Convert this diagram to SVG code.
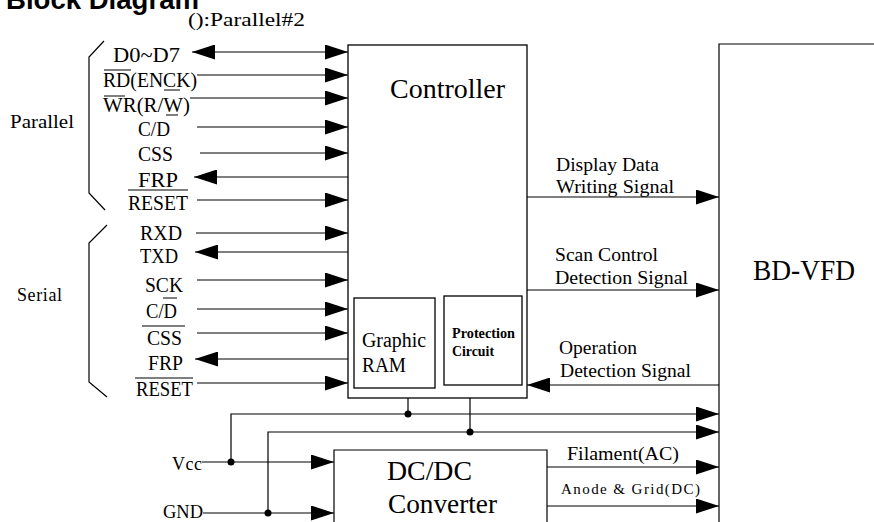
<svg xmlns="http://www.w3.org/2000/svg" width="874" height="522" viewBox="0 0 874 522">
<defs>
<marker id="ah" markerUnits="userSpaceOnUse" markerWidth="23" markerHeight="15" viewBox="0 0 23 15" refX="23" refY="7.5" orient="auto-start-reverse"><path d="M0,0 L23,7.5 L0,15 z" fill="#000"/></marker>
<style>
.ln{stroke:#000;stroke-width:1.2;fill:none}
.bx{stroke:#000;stroke-width:1.3;fill:#fff}
.ar{stroke:#000;stroke-width:1.2;fill:none;marker-end:url(#ah)}
.t{font-family:"Liberation Serif","Times New Roman",serif;fill:#000}
.s20{font-size:20px}
.s19{font-size:19px}
.s18{font-size:18px}
.dot{fill:#000}
</style>
</defs>
<rect width="874" height="522" fill="#fff"/>

<g id="title">
<text x="6" y="9" font-family="Liberation Sans, Arial, sans-serif" font-weight="bold" font-size="27" textLength="193" lengthAdjust="spacingAndGlyphs">Block Diagram</text>
<text class="t s19" x="188" y="26" textLength="117" lengthAdjust="spacingAndGlyphs">():Parallel#2</text>
</g>

<g id="parallel-group">
<path class="ln" d="M104,41 L89,57 V193 L105,210"/>
<text class="t s18" x="10" y="128" textLength="64" lengthAdjust="spacingAndGlyphs">Parallel</text>
<text class="t s20" x="113" y="62" textLength="67" lengthAdjust="spacingAndGlyphs">D0~D7</text>
<text class="t s20" x="103" y="87" textLength="94" lengthAdjust="spacingAndGlyphs">RD(ENCK)</text>
<text class="t s20" x="103" y="112" textLength="87" lengthAdjust="spacingAndGlyphs">WR(R/W)</text>
<text class="t s20" x="138" y="136" textLength="32" lengthAdjust="spacingAndGlyphs">C/D</text>
<text class="t s20" x="138" y="161" textLength="35" lengthAdjust="spacingAndGlyphs">CSS</text>
<text class="t s20" x="138" y="187" textLength="40" lengthAdjust="spacingAndGlyphs">FRP</text>
<text class="t s20" x="128" y="210" textLength="60" lengthAdjust="spacingAndGlyphs">RESET</text>
<path class="ln" d="M104,70 H131 M104,96 H125 M164,90 H180 M166,115 H178 M128,190 H188"/>
</g>

<g id="serial-group">
<path class="ln" d="M107,225 L89,243 V382 L107,397"/>
<text class="t s18" x="17" y="301" textLength="45">Serial</text>
<text class="t s20" x="140" y="240" textLength="42" lengthAdjust="spacingAndGlyphs">RXD</text>
<text class="t s20" x="140" y="263" textLength="38" lengthAdjust="spacingAndGlyphs">TXD</text>
<text class="t s20" x="145" y="292" textLength="38" lengthAdjust="spacingAndGlyphs">SCK</text>
<text class="t s20" x="146" y="318" textLength="31" lengthAdjust="spacingAndGlyphs">C/D</text>
<text class="t s20" x="147" y="345" textLength="35" lengthAdjust="spacingAndGlyphs">CSS</text>
<text class="t s20" x="148" y="370" textLength="35" lengthAdjust="spacingAndGlyphs">FRP</text>
<text class="t s20" x="136" y="396" textLength="57" lengthAdjust="spacingAndGlyphs">RESET</text>
<path class="ln" d="M163,298 H177 M142,326 H185 M135,378 H193"/>
</g>

<g id="controller">
<rect class="bx" x="348" y="45" width="179" height="353"/>
<text class="t" x="390" y="98" font-size="28" textLength="115" lengthAdjust="spacingAndGlyphs">Controller</text>
</g>

<g id="graphic-ram">
<rect class="bx" x="354" y="298" width="81" height="90"/>
<text class="t s20" x="362" y="347" textLength="64" lengthAdjust="spacingAndGlyphs">Graphic</text>
<text class="t s20" x="362" y="372" textLength="44" lengthAdjust="spacingAndGlyphs">RAM</text>
</g>

<g id="protection-circuit">
<rect class="bx" x="444" y="296" width="78" height="89"/>
<text class="t" x="452" y="338" font-size="14" font-weight="bold" textLength="63" lengthAdjust="spacingAndGlyphs">Protection</text>
<text class="t" x="452" y="356" font-size="14" font-weight="bold" textLength="42" lengthAdjust="spacingAndGlyphs">Circuit</text>
</g>

<g id="bd-vfd">
<path class="ln" d="M719,522 V44 H874"/>
<text class="t" x="753" y="280" font-size="30" textLength="102" lengthAdjust="spacingAndGlyphs">BD-VFD</text>
</g>

<g id="dcdc-converter">
<path class="ln" d="M334,522 V450 H547 V522"/>
<text class="t" x="387" y="480" font-size="27" textLength="85" lengthAdjust="spacingAndGlyphs">DC/DC</text>
<text class="t" x="388" y="513" font-size="27" textLength="109" lengthAdjust="spacingAndGlyphs">Converter</text>
</g>

<g id="power-labels">
<text class="t s18" x="172" y="470" textLength="30">Vcc</text>
<text class="t s18" x="163" y="518" textLength="40" lengthAdjust="spacingAndGlyphs">GND</text>
</g>

<g id="signal-labels">
<text class="t s19" x="556" y="171" textLength="103" lengthAdjust="spacingAndGlyphs">Display Data</text>
<text class="t s19" x="556" y="193" textLength="118" lengthAdjust="spacingAndGlyphs">Writing Signal</text>
<text class="t s19" x="555" y="261" textLength="103" lengthAdjust="spacingAndGlyphs">Scan Control</text>
<text class="t s19" x="555" y="284" textLength="133" lengthAdjust="spacingAndGlyphs">Detection Signal</text>
<text class="t s19" x="559" y="354" textLength="78" lengthAdjust="spacingAndGlyphs">Operation</text>
<text class="t s19" x="560" y="377" textLength="131" lengthAdjust="spacingAndGlyphs">Detection Signal</text>
<text class="t s19" x="567" y="460" textLength="112" lengthAdjust="spacingAndGlyphs">Filament(AC)</text>
<text class="t" x="561" y="494" font-size="15" textLength="139">Anode &amp; Grid(DC)</text>
</g>

<g id="connectors">
<line class="ar" x1="192" y1="52" x2="348" y2="52" marker-start="url(#ah)"/>
<line class="ar" x1="197" y1="75" x2="348" y2="75"/>
<line class="ar" x1="190" y1="98" x2="348" y2="98"/>
<line class="ar" x1="197" y1="127" x2="348" y2="127"/>
<line class="ar" x1="200" y1="153" x2="348" y2="153"/>
<line class="ar" x1="348" y1="177" x2="194" y2="177"/>
<line class="ar" x1="197" y1="200" x2="348" y2="200"/>

<line class="ar" x1="196" y1="233" x2="348" y2="233"/>
<line class="ar" x1="348" y1="252" x2="195" y2="252"/>
<line class="ar" x1="197" y1="280" x2="348" y2="280"/>
<line class="ar" x1="197" y1="309" x2="348" y2="309"/>
<line class="ar" x1="197" y1="333" x2="348" y2="333"/>
<line class="ar" x1="348" y1="359" x2="195" y2="359"/>
<line class="ar" x1="197" y1="383" x2="348" y2="383"/>

<line class="ar" x1="527" y1="197" x2="719" y2="197"/>
<line class="ar" x1="527" y1="290" x2="719" y2="290"/>
<line class="ar" x1="719" y1="385" x2="527" y2="385"/>

<path class="ln" d="M408,398 V414 M470,398 V432"/>
<path class="ar" d="M231,462 V414 H719"/>
<path class="ar" d="M268,513 V432 H719"/>
<line class="ar" x1="202" y1="462" x2="334" y2="462"/>
<line class="ar" x1="203" y1="513" x2="334" y2="513"/>
<circle class="dot" cx="408" cy="414" r="3.5"/>
<circle class="dot" cx="470" cy="432" r="3.5"/>
<circle class="dot" cx="231" cy="462" r="3.5"/>
<circle class="dot" cx="268" cy="513" r="3.5"/>

<line class="ar" x1="547" y1="467" x2="719" y2="467"/>
<line class="ar" x1="547" y1="506" x2="719" y2="506"/>
</g>
</svg>
